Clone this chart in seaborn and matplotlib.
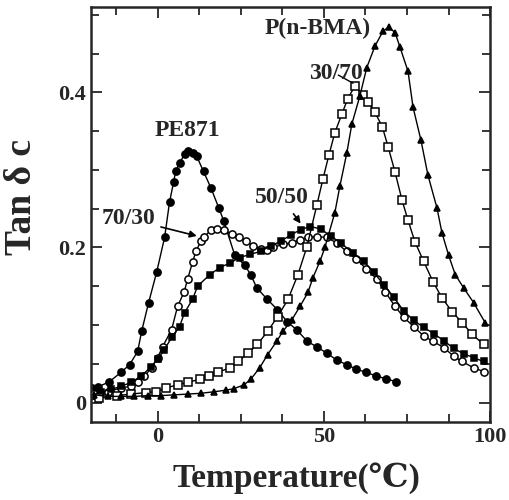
import numpy as np
import pandas as pd
import seaborn as sns
import matplotlib.pyplot as plt
from matplotlib.ticker import MultipleLocator

# PE871 (filled circles)
t_pe = [-19.6, -18, -14.5, -11, -8.4, -6, -4.8, -2.7, -0.3, 2.1, 3.6, 4.8, 5.4, 6.6, 8.1, 9, 10.5, 11.7,
        13.8, 16, 18.4, 19.9, 23.2, 26.2, 28, 29.8, 33, 36, 39, 41.8, 45, 47.8, 50.8, 53.8, 56.8, 59.8,
        62.8, 65.8, 68.6, 71.6]
v_pe = [0.019, 0.02, 0.027, 0.039, 0.049, 0.066, 0.092, 0.129, 0.168, 0.213, 0.259, 0.284, 0.298, 0.309,
        0.32, 0.324, 0.322, 0.318, 0.298, 0.277, 0.251, 0.234, 0.19, 0.177, 0.165, 0.148, 0.133, 0.12,
        0.104, 0.094, 0.079, 0.072, 0.064, 0.055, 0.049, 0.043, 0.039, 0.034, 0.031, 0.027]

# 70/30 (open circles)
t_7030 = [-19.5, -17.5, -15, -11, -8, -6, -4, -1.8, 0, 1.5, 4.2, 6, 8, 9, 10.5, 11.5, 13, 14, 16, 18, 20,
          22.5, 24.6, 26.6, 28.6, 31, 33, 34.7, 37.7, 40.4, 42.8, 45.2, 47.8, 50.8, 53.8, 56.8, 59.8,
          62.8, 66, 68.4, 71.4, 74, 77, 80, 82.8, 86, 89, 91.5, 95, 98]
v_7030 = [0.01, 0.01, 0.014, 0.019, 0.021, 0.027, 0.034, 0.045, 0.058, 0.072, 0.094, 0.124, 0.143, 0.159,
          0.181, 0.195, 0.208, 0.214, 0.222, 0.224, 0.222, 0.217, 0.213, 0.208, 0.202, 0.198, 0.197,
          0.2, 0.204, 0.206, 0.21, 0.213, 0.214, 0.213, 0.206, 0.195, 0.185, 0.172, 0.159, 0.143,
          0.124, 0.11, 0.098, 0.086, 0.079, 0.071, 0.06, 0.053, 0.045, 0.04]

# 50/50 (filled squares)
t_5050 = [-20, -17, -14, -11, -8, -5, -2, 0, 2, 4.2, 6.6, 8.1, 10.5, 12, 15.7, 18.7, 21.7, 24.7, 27.7,
          31, 34, 37, 40, 43, 45.8, 49, 52, 55, 58.7, 62, 65, 68, 71, 74, 77, 80, 83, 86, 89, 92, 95, 98]
v_5050 = [0.012, 0.014, 0.017, 0.021, 0.026, 0.034, 0.046, 0.056, 0.068, 0.084, 0.098, 0.116, 0.133,
          0.15, 0.165, 0.174, 0.18, 0.187, 0.191, 0.195, 0.202, 0.208, 0.216, 0.223, 0.227, 0.224,
          0.215, 0.206, 0.193, 0.182, 0.168, 0.152, 0.136, 0.118, 0.106, 0.097, 0.089, 0.08, 0.07,
          0.063, 0.058, 0.053]

# 30/70 (open squares)
t_3070 = [-19.5, -17.5, -12.3, -8, -3.4, -0.4, 2.6, 6, 9, 12.6, 15.6, 18.2, 21.7, 24.2, 27.2, 30, 33.1,
          36.1, 39.2, 42.2, 44.9, 47.9, 49.7, 51.5, 53.3, 55.4, 57.2, 59.3, 61.7, 63.3, 65.4, 67.6,
          69.3, 71.4, 73.5, 75.3, 77.4, 80, 82.8, 85.5, 88.6, 91.6, 94.6, 98]
v_3070 = [0.01, 0.006, 0.009, 0.011, 0.013, 0.014, 0.019, 0.023, 0.026, 0.03, 0.034, 0.039, 0.045, 0.053,
          0.064, 0.075, 0.092, 0.111, 0.133, 0.165, 0.201, 0.255, 0.288, 0.319, 0.348, 0.372, 0.392,
          0.408, 0.397, 0.388, 0.374, 0.355, 0.33, 0.297, 0.261, 0.235, 0.207, 0.182, 0.156, 0.135,
          0.117, 0.103, 0.088, 0.075]

# P(n-BMA) (filled triangles)
t_bma = [-19, -15, -11, -7, -3, 1, 5, 9, 13, 17, 20.5, 23, 26, 28, 30.7, 33.1, 35.8, 37.7, 40.4, 42.8,
         45.2, 46.7, 48.8, 50.3, 53.3, 54.8, 56.9, 58.4, 60.8, 62.9, 65.4, 67.8, 69.5, 71.4, 72.9,
         75.3, 76.8, 79.2, 81.3, 84, 85.5, 87.5, 89.5, 92, 95, 98.5]
v_bma = [0.01, 0.008, 0.008, 0.008, 0.009, 0.009, 0.01, 0.011, 0.012, 0.014, 0.016, 0.018, 0.023, 0.03,
         0.045, 0.062, 0.079, 0.092, 0.107, 0.124, 0.142, 0.161, 0.182, 0.2, 0.245, 0.279, 0.322,
         0.359, 0.395, 0.432, 0.46, 0.479, 0.484, 0.477, 0.458, 0.427, 0.381, 0.338, 0.293, 0.251,
         0.219, 0.19, 0.165, 0.148, 0.129, 0.103]

sns.set_style('ticks')
plt.rcParams['font.family'] = ['Liberation Serif', 'DejaVu Serif']
plt.rcParams['font.weight'] = 'bold'

fig = plt.figure(figsize=(5.09, 5.0), dpi=100)
ax = fig.add_axes([0.179, 0.156, 0.784, 0.830])

series = [
    (t_pe, v_pe, 'o', 'black', 5.2),
    (t_7030, v_7030, 'o', 'white', 5.2),
    (t_5050, v_5050, 's', 'black', 4.0),
    (t_3070, v_3070, 's', 'white', 5.2),
    (t_bma, v_bma, '^', 'black', 4.0),
]
for t, v, m, fc, ms in series:
    sns.lineplot(x=t, y=v, ax=ax, color='black', linewidth=1.0, marker=m, markersize=ms,
                 markerfacecolor=fc, markeredgecolor='black', markeredgewidth=1.1, sort=False)

ax.set_xlim(-20, 100)
ax.set_ylim(-0.025, 0.51)
ax.set_xticks([0, 50, 100])
ax.set_yticks([0, 0.2, 0.4])
ax.set_yticklabels(['0', '0.2', '0.4'])
ax.xaxis.set_minor_locator(MultipleLocator(12.5))
ax.yaxis.set_minor_locator(MultipleLocator(0.05))
ax.tick_params(which='both', direction='in', top=True, right=True, width=1.3)
ax.tick_params(which='major', length=8, labelsize=16)
ax.tick_params(which='minor', length=6)
for lab in ax.get_xticklabels() + ax.get_yticklabels():
    lab.set_fontweight('bold')
for sp in ax.spines.values():
    sp.set_linewidth(1.8)

ax.set_xlabel('Temperature(℃)', fontsize=24, fontweight='bold')
ax.set_ylabel('Tan δ c', fontsize=27, fontweight='bold')
ax.xaxis.set_label_coords(0.514, -0.135)
ax.xaxis.label.set_va('center')
ax.yaxis.set_label_coords(-0.175, 0.542)
ax.yaxis.label.set_va('center')

ax.text(9.0, 0.351, 'PE871', fontsize=17, fontweight='bold', ha='center', va='center')
ax.annotate('70/30', xy=(12.6, 0.214), xytext=(-0.8, 0.237), fontsize=17, fontweight='bold',
            ha='right', va='center',
            arrowprops=dict(arrowstyle='-|>', color='black', lw=1.2, mutation_scale=10))
ax.annotate('50/50', xy=(43.5, 0.228), xytext=(37.3, 0.264), fontsize=17, fontweight='bold',
            ha='center', va='center',
            arrowprops=dict(arrowstyle='-|>', color='black', lw=1.2, mutation_scale=10))
ax.annotate('30/70', xy=(59.5, 0.41), xytext=(53.6, 0.424), fontsize=17, fontweight='bold',
            ha='center', va='center',
            arrowprops=dict(arrowstyle='-', color='black', lw=1.0))
ax.text(48.0, 0.482, 'P(n-BMA)', fontsize=17, fontweight='bold', ha='center', va='center')

fig.savefig('out.png', dpi=100)
